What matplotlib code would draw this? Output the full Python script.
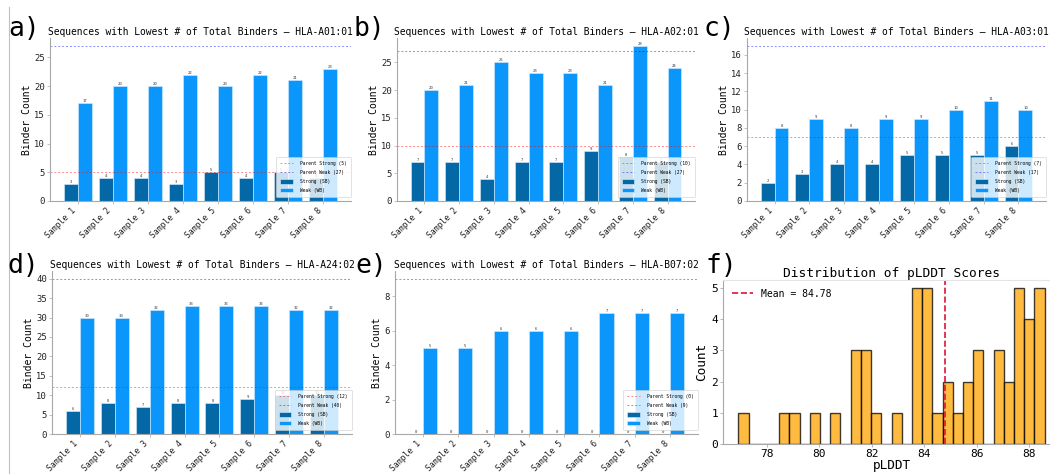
import numpy as np
import matplotlib
matplotlib.use("Agg")
import matplotlib.pyplot as plt
from matplotlib.lines import Line2D

plt.rcParams['font.family'] = ['DejaVu Sans Mono', 'DejaVu Sans']

# ---- binder counts per allele ----
samples = ["Sample 1", "Sample 2", "Sample 3", "Sample 4",
           "Sample 5", "Sample 6", "Sample 7", "Sample 8"]

alleles = ["HLA-A01:01", "HLA-A02:01", "HLA-A03:01", "HLA-A24:02", "HLA-B07:02"]

strong_a01 = [3, 4, 4, 3, 5, 4, 5, 4]
weak_a01 = [17, 20, 20, 22, 20, 22, 21, 23]
strong_a02 = [7, 7, 4, 7, 7, 9, 8, 7]
weak_a02 = [20, 21, 25, 23, 23, 21, 28, 24]
strong_a03 = [2, 3, 4, 4, 5, 5, 5, 6]
weak_a03 = [8, 9, 8, 9, 9, 10, 11, 10]
strong_a24 = [6, 8, 7, 8, 8, 9, 10, 10]
weak_a24 = [30, 30, 32, 33, 33, 33, 32, 32]
strong_b07 = [0, 0, 0, 0, 0, 0, 0, 0]
weak_b07 = [5, 5, 6, 6, 6, 7, 7, 7]

parent_strong = [5, 10, 7, 12, 0]
parent_weak = [27, 27, 17, 40, 9]

panel_letters = ["a)", "b)", "c)", "d)", "e)", "f)"]

# ---- pLDDT histogram (30 bins) ----
plddt_min = 76.91
plddt_max = 88.59
plddt_counts = [1, 0, 0, 0, 1, 1, 0, 1, 0, 1,
                0, 3, 3, 1, 0, 1, 0, 5, 5, 1,
                2, 1, 2, 3, 0, 3, 2, 5, 4, 5]
plddt_mean = 84.78

# ---- figure ----
W, H = 1050, 474
fig = plt.figure(figsize=(W / 100, H / 100), dpi=100)


def px_axes(x0, x1, y0, y1):
    return fig.add_axes([x0 / W, 1 - y1 / H, (x1 - x0) / W, (y1 - y0) / H])


bar_boxes = [(50, 351, 38, 201), (397, 695, 38, 201), (747, 1046, 38, 201),
             (52, 352, 271, 434), (395, 698, 271, 434)]
strong_all = [strong_a01, strong_a02, strong_a03, strong_a24, strong_b07]
weak_all = [weak_a01, weak_a02, weak_a03, weak_a24, weak_b07]

STRONG_C = "#0568a6"
WEAK_C = "#0a96fa"
SPINE_C = "#a8a8a8"

for box, allele, sb, wb, ps, pw in zip(bar_boxes, alleles, strong_all, weak_all,
                                       parent_strong, parent_weak):
    ax = px_axes(*box)
    x = np.arange(len(samples))
    w = 0.4
    ax.axhline(ps, color="red", ls=(0, (2, 2)), lw=0.7, alpha=0.45,
               label=f"Parent Strong ({ps})")
    ax.axhline(pw, color="blue", ls=(0, (2, 2)), lw=0.7, alpha=0.45,
               label=f"Parent Weak ({pw})")
    ax.bar(x - w / 2, sb, w, color=STRONG_C, edgecolor="#dbeefc",
           lw=0.4, label="Strong (SB)")
    ax.bar(x + w / 2, wb, w, color=WEAK_C, edgecolor="#d6ecff",
           lw=0.4, label="Weak (WB)")
    for xi, v in zip(x - w / 2, sb):
        ax.text(xi, v, str(v), ha="center", va="bottom", fontsize=2.8, color="#333333")
    for xi, v in zip(x + w / 2, wb):
        ax.text(xi, v, str(v), ha="center", va="bottom", fontsize=2.8, color="#333333")

    ax.set_ylim(0, max(max(wb), pw) * 1.05)
    ax.set_xticks(x)
    ax.set_xticklabels(samples, rotation=45, ha="right", fontsize=5.9)
    ax.tick_params(axis="y", labelsize=6.4)
    ax.tick_params(length=2, width=0.5, color=SPINE_C, pad=1.5, labelcolor="#222222")
    ax.set_ylabel("Binder Count", fontsize=7, labelpad=2)
    ax.set_title(f"Sequences with Lowest # of Total Binders — {allele}",
                 fontsize=6.9, pad=2.5)
    for s in ("top", "right"):
        ax.spines[s].set_visible(False)
    for s in ("left", "bottom"):
        ax.spines[s].set_color(SPINE_C)
        ax.spines[s].set_linewidth(0.8)

    leg = ax.legend(loc="lower right", bbox_to_anchor=(1.0, 0.026), borderaxespad=0,
                    fontsize=3.3, framealpha=0.8, handlelength=2.7,
                    handletextpad=1.6, borderpad=0.9, labelspacing=0.85,
                    handleheight=1.2, fancybox=True)
    leg.get_frame().set_edgecolor("#cccccc")
    leg.get_frame().set_linewidth(0.5)

# ---- pLDDT distribution ----
axf = px_axes(723, 1060, 280, 444)
edges = np.linspace(plddt_min, plddt_max, len(plddt_counts) + 1)
centers = (edges[:-1] + edges[1:]) / 2
axf.hist(centers, bins=edges, weights=plddt_counts, color="orange", alpha=0.75,
         edgecolor="black", linewidth=1.0)
axf.axvline(plddt_mean, color="crimson", ls="--", lw=1.2,
            label=f"Mean = {plddt_mean:.2f}")
axf.set_title("Distribution of pLDDT Scores", fontsize=9.3, pad=2)
axf.set_xlabel("pLDDT", fontsize=9.2, labelpad=0)
axf.set_ylabel("Count", fontsize=9.2, labelpad=2)
axf.tick_params(labelsize=8, length=2.5, width=0.6, color=SPINE_C, pad=1)
axf.spines["right"].set_visible(False)
axf.spines["top"].set_color("#e4e4e4")
for s in ("left", "bottom"):
    axf.spines[s].set_color(SPINE_C)
axf.legend(loc="upper left", frameon=False, fontsize=7, handlelength=2.2)

# ---- panel letters ----
letter_pos = [(8, 36), (353, 36), (704, 36), (7, 273), (355, 273), (705, 273)]
for lab, (lx, ly) in zip(panel_letters, letter_pos):
    fig.text(lx / W, 1 - ly / H, lab, fontsize=19, ha="left", va="baseline")

# thin divider on the left edge
fig.add_artist(Line2D([9 / W, 9 / W], [0, 1 - 7 / H], color="#c0c0c0", lw=0.8,
                      transform=fig.transFigure))

fig.savefig("out.png", dpi=100)
